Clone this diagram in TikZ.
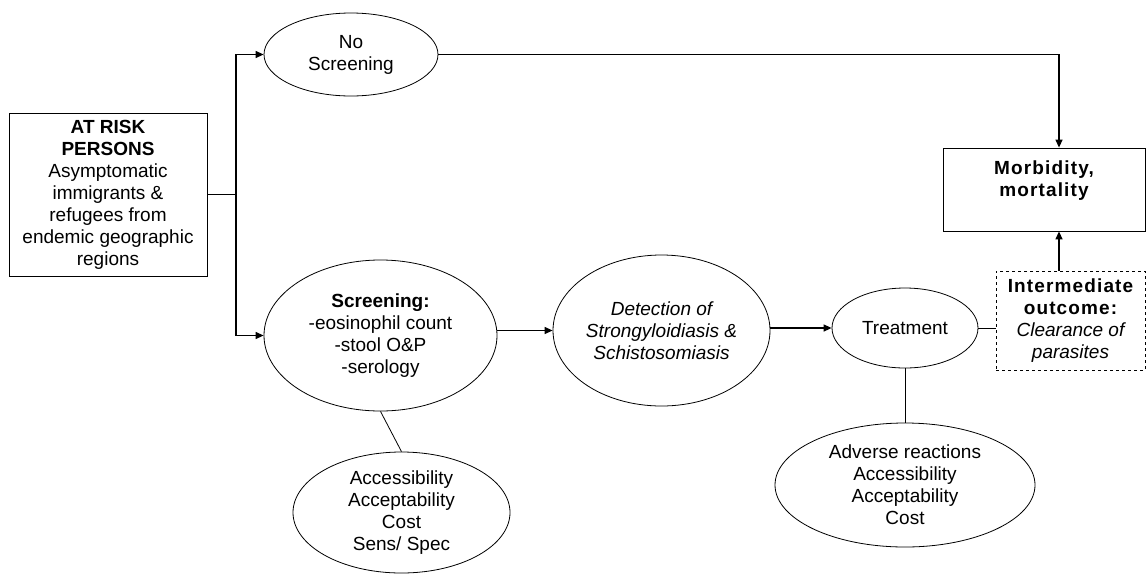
\documentclass[tikz,border=0pt]{standalone}
\usepackage{fontspec}
\setmainfont{Liberation Sans}
\usetikzlibrary{shapes.geometric,arrows.meta}
\tikzset{
  txt/.style={align=center,font=\fontsize{19}{22}\selectfont,inner sep=0pt},
  oval/.style={ellipse,draw,line width=0.8pt,txt},
  boxn/.style={rectangle,draw,line width=0.8pt,txt},
  conn/.style={line width=1.3pt},
  arr/.style={conn,-{Triangle[length=8pt,width=7pt]}},
}
\newfontfamily\spaced[LetterSpace=6]{Liberation Sans}
\begin{document}
\begin{tikzpicture}[x=1pt,y=-1pt]
\useasboundingbox (0,0) rectangle (1146,574);
\node[boxn,minimum width=198pt,minimum height=163pt] (risk) at (108,194.5)
  {\textbf{AT RISK}\\\textbf{PERSONS}\\Asymptomatic\\immigrants \&\\refugees from\\endemic geographic\\regions};
\node[oval,minimum width=174pt,minimum height=83pt] (noscr) at (351,54.5) {No\\Screening};
\node[oval,minimum width=233pt,minimum height=151pt] (scr) at (380.5,335.5)
  {\textbf{Screening:}\\-eosinophil count\\-stool O\&P\\-serology};
\node[oval,minimum width=217pt,minimum height=151pt] (det) at (661.5,330.5)
  {\itshape Detection of\\\itshape Strongyloidiasis \&\\\itshape Schistosomiasis};
\node[oval,minimum width=146pt,minimum height=80pt] (treat) at (905,328) {Treatment};
\node[oval,minimum width=260pt,minimum height=124pt] (adv) at (905,485)
  {Adverse reactions\\Accessibility\\Acceptability\\Cost};
\node[oval,minimum width=217pt,minimum height=121pt] (acc) at (401.5,512.5)
  {Accessibility\\Acceptability\\Cost\\Sens/ Spec};
\node[boxn,minimum width=202pt,minimum height=83pt] (morb) at (1044,189.5)
  {{\spaced\bfseries Morbidity,}\\{\spaced\bfseries mortality}\\\mbox{}};
\node[boxn,dashed,minimum width=149pt,minimum height=99pt] (inter) at (1070.5,320.5)
  {{\spaced\bfseries Intermediate}\\{\spaced\bfseries outcome:}\\\itshape Clearance of\\\itshape parasites};
\coordinate (split) at (236,194.5);
\draw[conn] (risk.east) -- (split);
\draw[arr] (split) |- (noscr.west);
\draw[arr] (split) |- (scr.west);
\draw[arr] (noscr.east) -| ([xshift=15pt]morb.north);
\draw[arr] ([xshift=-11.5pt]inter.north) -- ([xshift=15pt]morb.south);
\draw[arr] (scr.east |- det.west) -- (det.west);
\draw[arr] (det.east |- treat.west) -- (treat.west);
\draw[line width=0.8pt] (treat.east) -- (treat.east -| inter.west);
\draw[line width=0.8pt] (treat.south) -- (adv.north);
\draw[line width=0.8pt] (scr.south) -- (acc.north);
\end{tikzpicture}
\end{document}
